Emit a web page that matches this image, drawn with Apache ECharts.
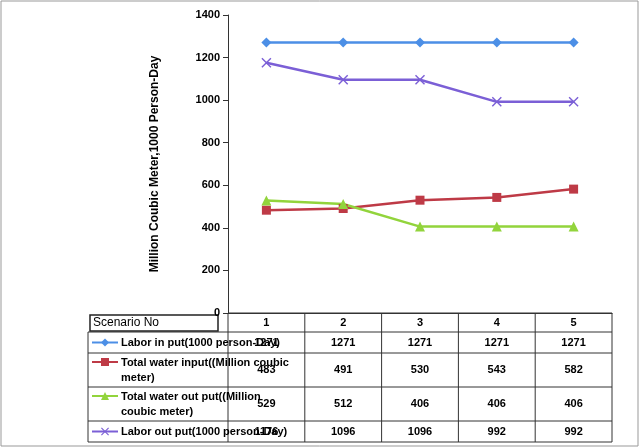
<!DOCTYPE html>
<html><head><meta charset="utf-8">
<script src="https://cdn.jsdelivr.net/npm/echarts@6/dist/echarts.min.js"></script>
<style>html,body{margin:0;padding:0;background:#fff}#c{width:640px;height:448px}</style>
</head><body><div id="c"></div>
<script>
const categories = ['1','2','3','4','5'];
const seriesNames = ['Labor in put(1000 person-Day)','Total water input((Million coubic\nmeter)','Total water out put((Million\ncoubic meter)','Labor out put(1000 person-Day)'];
const laborIn = [1271,1271,1271,1271,1271];
const waterIn = [483,491,530,543,582];
const waterOut = [529,512,406,406,406];
const laborOut = [1176,1096,1096,992,992];
const yTicks = [0,200,400,600,800,1000,1200,1400];

const colors = ['#4C8FE6','#BE3A46','#92D43C','#7B5FD6'];
const symbols = ['diamond','rect','triangle','path://M0,1L1,0L5,4L9,0L10,1L6,5L10,9L9,10L5,6L1,10L0,9L4,5Z'];
const data = [laborIn, waterIn, waterOut, laborOut];
const polys = [
  [[0,5],[5,0],[10,5],[5,10]],
  [[0,0],[10,0],[10,10],[0,10]],
  [[5,0],[10,10],[0,10]],
  [[0,1],[1,0],[5,4],[9,0],[10,1],[6,5],[10,9],[9,10],[5,6],[1,10],[0,9],[4,5]]
];

const L=228, R=612, T=15, B=313, TL=88;
const rowTops=[313,332,353,387,421,442];
const colW=(R-L)/categories.length;
const g=[];
const ln=(x1,y1,x2,y2)=>g.push({type:'line',shape:{x1,y1,x2,y2},style:{stroke:'#333',lineWidth:1}});
rowTops.forEach((y,i)=>ln(i===0?L:TL,y,R,y));
ln(TL,rowTops[1],TL,rowTops[5]);
for(let i=0;i<=categories.length;i++) ln(L+i*colW,rowTops[0],L+i*colW,rowTops[5]);
g.push({type:'rect',shape:{x:90,y:315,width:128,height:16},style:{fill:'none',stroke:'#222',lineWidth:1.5}});
g.push({type:'text',x:93,y:323,style:{text:'Scenario No',font:'12px Liberation Sans',fill:'#000',verticalAlign:'middle'}});
categories.forEach((c,i)=>g.push({type:'text',x:L+(i+.5)*colW,y:323,style:{text:c,font:'bold 11px Liberation Sans',fill:'#000',align:'center',verticalAlign:'middle'}}));
data.forEach((arr,r)=>{
  const yc=(rowTops[r+1]+rowTops[r+2])/2;
  const multi=seriesNames[r].includes('\n');
  const ym= multi? rowTops[r+1]+9 : yc;
  g.push({type:'line',shape:{x1:92,y1:ym,x2:118,y2:ym},style:{stroke:colors[r],lineWidth:2}});
  g.push({type:'polygon',shape:{points:polys[r].map(p=>[101+p[0]*0.8,ym-4+p[1]*0.8])},style:{fill:colors[r]}});
  g.push({type:'text',x:121,y:multi?ym-7:ym,style:{text:seriesNames[r],font:'bold 11px Liberation Sans',fill:'#000',verticalAlign:multi?'top':'middle',lineHeight:15}});
  arr.forEach((v,i)=>g.push({type:'text',x:L+(i+.5)*colW,y:yc,style:{text:String(v),font:'bold 11px Liberation Sans',fill:'#000',align:'center',verticalAlign:'middle'}}));
});
g.push({type:'rect',shape:{x:1,y:1,width:637,height:445},style:{fill:'none',stroke:'#999',lineWidth:1}});
g.push({type:'text',x:155,y:164,rotation:Math.PI/2,style:{text:'Million Coubic Meter,1000 Person-Day',font:'bold 12px Liberation Sans',fill:'#000',align:'center',verticalAlign:'middle'}});

const chart=echarts.init(document.getElementById('c'));
chart.setOption({
  animation:false,
  grid:{left:L,right:640-R,top:T,bottom:448-B},
  xAxis:{type:'category',data:categories,boundaryGap:true,axisLine:{lineStyle:{color:'#333'}},axisTick:{show:false},axisLabel:{show:false}},
  yAxis:{type:'value',min:0,max:1400,interval:200,axisLine:{show:true,lineStyle:{color:'#333'}},axisTick:{show:true,lineStyle:{color:'#333'}},splitLine:{show:false},axisLabel:{color:'#000',fontWeight:'bold',fontSize:11,fontFamily:'Liberation Sans',formatter:v=>yTicks.includes(v)?String(v):''}},
  series:data.map((d,i)=>({type:'line',data:d,symbol:symbols[i],symbolSize:i===1?9:10,lineStyle:{width:2.5,color:colors[i]},itemStyle:{color:colors[i]}})),
  graphic:g
});
</script></body></html>
